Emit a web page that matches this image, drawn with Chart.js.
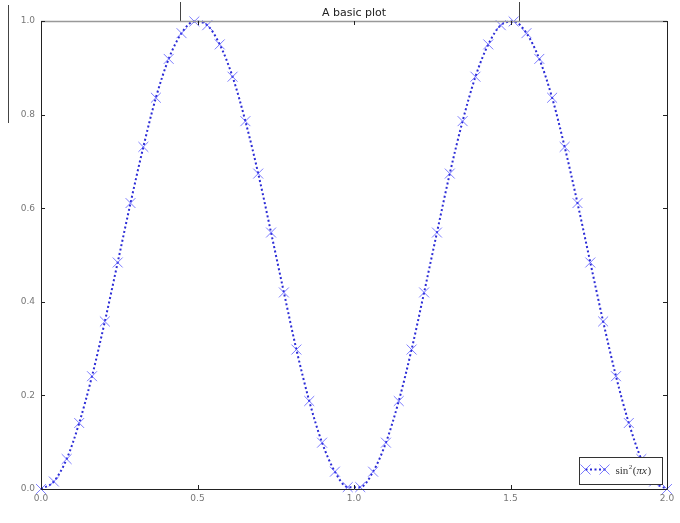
<!DOCTYPE html>
<html>
<head>
<meta charset="utf-8">
<script src="https://cdn.jsdelivr.net/npm/chart.js@4/dist/chart.umd.min.js"></script>
<style>
  html, body { margin: 0; padding: 0; background: #fff; }
  #wrap { width: 680px; height: 523px; position: relative; }
</style>
</head>
<body>
<div id="wrap"><canvas id="myChart"></canvas></div>
<script>
// values (50 samples from 0 to 2)
const xVals = [0, 0.041, 0.082, 0.122, 0.163, 0.204, 0.245, 0.286, 0.327, 0.367,
  0.408, 0.449, 0.490, 0.531, 0.571, 0.612, 0.653, 0.694, 0.735, 0.776,
  0.816, 0.857, 0.898, 0.939, 0.980, 1.020, 1.061, 1.102, 1.143, 1.184,
  1.224, 1.265, 1.306, 1.347, 1.388, 1.429, 1.469, 1.510, 1.551, 1.592,
  1.633, 1.673, 1.714, 1.755, 1.796, 1.837, 1.878, 1.918, 1.959, 2.0];
const yVals = [0, 0.016, 0.064, 0.141, 0.241, 0.358, 0.484, 0.611, 0.731, 0.836,
  0.919, 0.974, 0.999, 0.991, 0.950, 0.881, 0.786, 0.674, 0.548, 0.420,
  0.298, 0.188, 0.099, 0.037, 0.004, 0.004, 0.037, 0.099, 0.188, 0.298,
  0.420, 0.548, 0.674, 0.786, 0.881, 0.950, 0.991, 0.999, 0.974, 0.919,
  0.836, 0.731, 0.611, 0.484, 0.358, 0.241, 0.141, 0.064, 0.016, 0];
const xTicks = [0, 0.5, 1.0, 1.5, 2.0];
const yTicks = [0, 0.2, 0.4, 0.6, 0.8, 1.0];
const titleText = "A basic plot";

const points = xVals.map((x, i) => ({ x: x, y: yVals[i] }));

const lineColor = "rgba(20, 20, 210, 0.9)";
const markColor = "rgba(70, 70, 255, 0.7)";

// matplotlib-like frame, inner ticks, title and legend
const framePlugin = {
  id: "frame",
  afterDraw(chart) {
    const ctx = chart.ctx;
    const a = chart.chartArea;
    const xs = chart.scales.x, ys = chart.scales.y;
    ctx.save();
    // stray marks at the top of the figure
    ctx.strokeStyle = "#444";
    ctx.lineWidth = 1;
    ctx.beginPath();
    ctx.moveTo(8.5, 5); ctx.lineTo(8.5, 123);
    ctx.moveTo(180.5, 2); ctx.lineTo(180.5, a.top);
    ctx.moveTo(519.5, 2); ctx.lineTo(519.5, a.top);
    ctx.stroke();

    // spines
    ctx.strokeStyle = "#999";
    ctx.lineWidth = 1.5;
    ctx.beginPath();
    ctx.moveTo(a.left, a.top + 0.5); ctx.lineTo(a.right, a.top + 0.5);
    ctx.stroke();
    ctx.strokeStyle = "#222";
    ctx.lineWidth = 1;
    ctx.beginPath();
    ctx.moveTo(a.left + 0.5, a.top); ctx.lineTo(a.left + 0.5, a.bottom + 0.5);
    ctx.lineTo(a.right + 0.5, a.bottom + 0.5);
    ctx.lineTo(a.right + 0.5, a.top);
    ctx.stroke();

    // inward ticks
    ctx.beginPath();
    xTicks.forEach(v => {
      const px = Math.round(xs.getPixelForValue(v)) + 0.5;
      ctx.moveTo(px, a.bottom); ctx.lineTo(px, a.bottom - 4);
      ctx.moveTo(px, a.top); ctx.lineTo(px, a.top + 4);
    });
    yTicks.forEach(v => {
      const py = Math.round(ys.getPixelForValue(v)) + 0.5;
      ctx.moveTo(a.left, py); ctx.lineTo(a.left + 4, py);
      ctx.moveTo(a.right, py); ctx.lineTo(a.right - 4, py);
    });
    ctx.stroke();

    // title
    ctx.fillStyle = "#222";
    ctx.font = "11px 'DejaVu Sans'";
    ctx.textAlign = "center";
    ctx.textBaseline = "alphabetic";
    ctx.fillText(titleText, (a.left + a.right) / 2, 16);

    // legend box
    const bx = 579.5, by = 457.5, bw = 83, bh = 27;
    ctx.fillStyle = "#fff";
    ctx.fillRect(bx, by, bw, bh);
    ctx.strokeStyle = "#333";
    ctx.strokeRect(bx, by, bw, bh);
    const ly = by + 12;
    ctx.strokeStyle = lineColor;
    ctx.lineWidth = 2;
    ctx.setLineDash([2, 2.5]);
    ctx.beginPath();
    ctx.moveTo(bx + 6, ly); ctx.lineTo(bx + 26, ly);
    ctx.stroke();
    ctx.setLineDash([]);
    ctx.strokeStyle = markColor;
    ctx.lineWidth = 1;
    [bx + 6, bx + 25].forEach(cx => {
      ctx.beginPath();
      ctx.moveTo(cx - 5, ly - 5); ctx.lineTo(cx + 5, ly + 5);
      ctx.moveTo(cx - 5, ly + 5); ctx.lineTo(cx + 5, ly - 5);
      ctx.stroke();
    });
    ctx.fillStyle = "#333";
    ctx.textAlign = "left";
    let tx = bx + 36;
    const base = ly + 4;
    ctx.font = "11px 'Liberation Serif'";
    ctx.fillText("sin", tx, base); tx += ctx.measureText("sin").width + 0.5;
    ctx.font = "7px 'Liberation Serif'";
    ctx.fillText("2", tx, base - 5); tx += ctx.measureText("2").width + 0.5;
    ctx.font = "11px 'Liberation Serif'";
    ctx.fillText("(", tx, base); tx += ctx.measureText("(").width;
    ctx.font = "italic 11px 'Liberation Serif'";
    ctx.fillText("πx", tx, base); tx += ctx.measureText("πx").width + 0.5;
    ctx.font = "11px 'Liberation Serif'";
    ctx.fillText(")", tx, base);
    ctx.restore();
  }
};

const ctx = document.getElementById("myChart").getContext("2d");
const myChart = new Chart(ctx, {
  type: "scatter",
  data: {
    datasets: [
      {
        label: "sin²(πx)",
        data: points,
        showLine: true,
        borderColor: lineColor,
        borderWidth: 2,
        borderDash: [2, 2.5],
        cubicInterpolationMode: "monotone",
        pointStyle: "crossRot",
        pointRadius: 7,
        pointBorderWidth: 1,
        pointBorderColor: markColor,
        pointBackgroundColor: markColor,
        clip: 7,
      },
    ],
  },
  options: {
    responsive: true,
    maintainAspectRatio: false,
    animation: false,
    layout: { padding: { top: 21, right: 13, left: 0, bottom: 0 } },
    plugins: {
      legend: { display: false },
      title: { display: false },
      tooltip: { enabled: false },
    },
    scales: {
      x: {
        type: "linear",
        min: 0,
        max: 2,
        afterBuildTicks: (s) => { s.ticks = xTicks.map(v => ({ value: v })); },
        afterFit: (s) => { s.height = 34; },
        grid: { display: false, drawTicks: false },
        border: { display: false },
        ticks: {
          padding: 4,
          color: "#777",
          font: { family: "'DejaVu Sans'", size: 9 },
          callback: (v) => Number(v).toFixed(1),
        },
      },
      y: {
        type: "linear",
        min: 0,
        max: 1,
        afterBuildTicks: (s) => { s.ticks = yTicks.map(v => ({ value: v })); },
        afterFit: (s) => { s.width = 41; },
        grid: { display: false, drawTicks: false },
        border: { display: false },
        ticks: {
          padding: 6,
          color: "#777",
          font: { family: "'DejaVu Sans'", size: 9 },
          callback: (v) => Number(v).toFixed(1),
        },
      },
    },
  },
  plugins: [framePlugin],
});
</script>
</body>
</html>
